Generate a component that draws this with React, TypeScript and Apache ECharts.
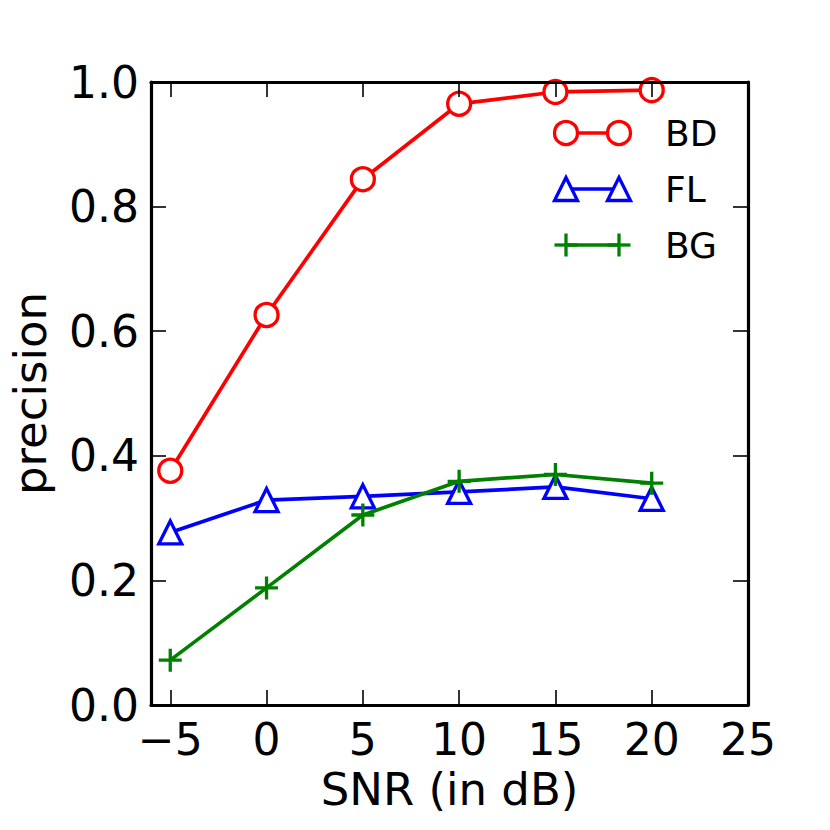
import React, { useEffect, useRef } from 'react';
import * as echarts from 'echarts';

const snr = [-5, 0, 5, 10, 15, 20];
const bd = [0.376, 0.626, 0.844, 0.965, 0.984, 0.987];
const fl = [0.277, 0.329, 0.335, 0.342, 0.35, 0.331];
const bg = [0.072, 0.188, 0.305, 0.359, 0.37, 0.356];
const xTicks = [-5, 0, 5, 10, 15, 20, 25];
const seriesNames = ['BD', 'FL', 'BG'];
const seriesColors = ['#ff0000', '#0000ff', '#008000'];
const xName = 'SNR (in dB)';
const yName = 'precision';

const FONT = 'DejaVu Sans';
const PLUS = 'path://M5,0L5,10M0,5L10,5';
const LW = 3.7;
const MW = 3.3;
const MS = 23;

function fmtX(v: number) {
  return v < 0 ? '\u2212' + Math.abs(v) : String(v);
}

export default function App() {
  const ref = useRef<HTMLDivElement>(null);
  useEffect(() => {
    if (!ref.current) return;
    const chart = echarts.init(ref.current, null, { renderer: 'svg' });
    const axisLine = { show: true, onZero: false, lineStyle: { color: '#000', width: 3.2 } };
    const tickStyle = { color: '#000', width: 1.6 };
    const labelStyle = { fontSize: 44, fontFamily: FONT, color: '#000' };
    const pair = (ys: number[]) => snr.map((x, i) => [x, ys[i]]);
    const r = MS / 2;

    const legendGraphics: any[] = [];
    const rowY = [133, 189, 245];
    const mx = [566, 619];
    seriesNames.forEach((name, i) => {
      const c = seriesColors[i];
      const y = rowY[i];
      legendGraphics.push({
        type: 'line', shape: { x1: mx[0], y1: y, x2: mx[1], y2: y },
        style: { stroke: c, lineWidth: LW }, z: 10,
      });
      mx.forEach((x) => {
        if (i === 0) {
          legendGraphics.push({ type: 'circle', shape: { cx: x, cy: y, r }, style: { fill: '#fff', stroke: c, lineWidth: MW }, z: 11 });
        } else if (i === 1) {
          legendGraphics.push({ type: 'polygon', shape: { points: [[x, y - r], [x + r, y + r], [x - r, y + r]] }, style: { fill: '#fff', stroke: c, lineWidth: MW }, z: 11 });
        } else {
          legendGraphics.push({ type: 'line', shape: { x1: x - r, y1: y, x2: x + r, y2: y }, style: { stroke: c, lineWidth: MW }, z: 11 });
          legendGraphics.push({ type: 'line', shape: { x1: x, y1: y - r, x2: x, y2: y + r }, style: { stroke: c, lineWidth: MW }, z: 11 });
        }
      });
      legendGraphics.push({
        type: 'text', x: 665, y, style: { text: name, fontSize: 36, fontFamily: FONT, fill: '#000', verticalAlign: 'middle', align: 'left' }, z: 11,
      });
    });

    chart.setOption({
      animation: false,
      backgroundColor: '#fff',
      grid: { left: 149, right: 82, top: 82, bottom: 125, containLabel: false },
      xAxis: [
        {
          type: 'value', min: -6, max: 25, position: 'bottom', axisLine, splitLine: { show: false }, z: 5,
          axisTick: { show: true, inside: true, length: 15, lineStyle: tickStyle, customValues: xTicks },
          axisLabel: { show: true, customValues: xTicks, formatter: fmtX, margin: 12, ...labelStyle },
          name: xName, nameLocation: 'middle', nameGap: 62, nameTextStyle: { fontSize: 45, fontFamily: FONT, color: '#000' },
        },
        {
          type: 'value', min: -6, max: 25, position: 'top', axisLine, splitLine: { show: false }, z: 5,
          axisTick: { show: true, inside: true, length: 15, lineStyle: tickStyle, customValues: xTicks },
          axisLabel: { show: false },
        },
      ],
      yAxis: [
        {
          type: 'value', min: 0, max: 1, interval: 0.2, position: 'left', axisLine, splitLine: { show: false }, z: 5,
          axisTick: { show: true, inside: true, length: 15, lineStyle: tickStyle },
          axisLabel: { show: true, formatter: (v: number) => v.toFixed(1), margin: 12, ...labelStyle },
          name: yName, nameLocation: 'middle', nameGap: 98, nameRotate: 90, nameTextStyle: { fontSize: 45, fontFamily: FONT, color: '#000' },
        },
        {
          type: 'value', min: 0, max: 1, interval: 0.2, position: 'right', axisLine, splitLine: { show: false }, z: 5,
          axisTick: { show: true, inside: true, length: 15, lineStyle: tickStyle },
          axisLabel: { show: false },
        },
      ],
      series: [
        {
          name: seriesNames[0], type: 'line', data: pair(bd), symbol: 'circle', symbolSize: MS, showAllSymbol: true,
          lineStyle: { color: seriesColors[0], width: LW },
          itemStyle: { color: '#fff', borderColor: seriesColors[0], borderWidth: MW }, z: 2,
        },
        {
          name: seriesNames[1], type: 'line', data: pair(fl), symbol: 'triangle', symbolSize: MS, showAllSymbol: true,
          lineStyle: { color: seriesColors[1], width: LW },
          itemStyle: { color: '#fff', borderColor: seriesColors[1], borderWidth: MW }, z: 3,
        },
        {
          name: seriesNames[2], type: 'line', data: pair(bg), symbol: PLUS, symbolSize: MS, showAllSymbol: true,
          lineStyle: { color: seriesColors[2], width: LW },
          itemStyle: { color: seriesColors[2], borderColor: seriesColors[2], borderWidth: MW }, z: 4,
        },
      ],
      graphic: legendGraphics,
    });
    return () => chart.dispose();
  }, []);
  return <div ref={ref} style={{ position: 'fixed', left: 0, top: 0, width: 830, height: 830, background: '#fff' }} />;
}
